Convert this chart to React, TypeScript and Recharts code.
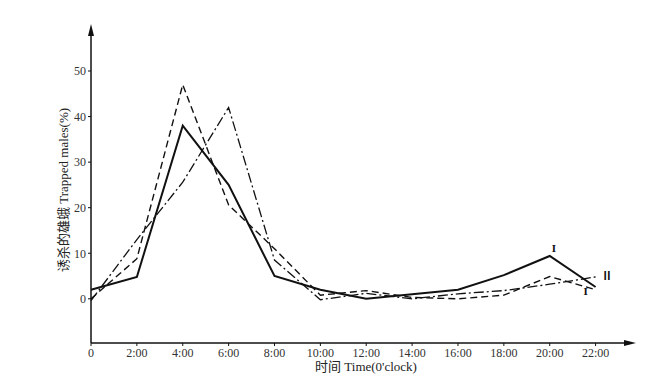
import { LineChart, Line, XAxis, YAxis, LabelList } from "recharts";

const hours = [0, 2, 4, 6, 8, 10, 12, 14, 16, 18, 20, 22];
const seriesI = [2, 4.8, 38, 25, 5, 2, 0, 1, 2, 5.2, 9.4, 2.6];
const seriesIPrime = [0, 8.8, 47, 20.6, 11, 0.8, 1.8, 0.3, 0, 0.8, 4.9, 2];
const seriesII = [-0.4, 13, 25.6, 42, 8.5, -0.2, 1.2, 0, 1.1, 1.8, 3.2, 4.8];
const yTicks = [0, 10, 20, 30, 40, 50];

const data = hours.map((h, i) => ({ h, a: seriesI[i], b: seriesIPrime[i], c: seriesII[i] }));

const serif = "'Liberation Serif', 'Noto Sans CJK SC', serif";

const fmtHour = (v: number) => (v === 0 ? "0" : `${v}:00`);

const endLabel = (text: string, idx: number, dx: number, dy: number) => (props: any) => {
  if (props.index !== idx) return null;
  return (
    <text x={props.x + dx} y={props.y + dy} fontSize={11} fontFamily={serif} fontWeight="bold" fill="#111">
      {text}
    </text>
  );
};

export default function App() {
  return (
    <div style={{ position: "absolute", left: 0, top: 0, width: 669, height: 385, background: "#fff" }}>
      <LineChart width={669} height={385} data={data} margin={{ top: 30, right: 39, bottom: 12, left: 51 }}>
        <XAxis
          dataKey="h"
          type="number"
          domain={[0, 23.5]}
          ticks={hours}
          tickFormatter={fmtHour}
          height={30}
          axisLine={{ stroke: "#111", strokeWidth: 1.5 }}
          tickLine={{ stroke: "#111" }}
          tickSize={3}
          tick={{ fontSize: 12, fontFamily: serif, fill: "#333" }}
          interval={0}
        />
        <YAxis
          type="number"
          domain={[-9.7, 59]}
          ticks={yTicks}
          width={40}
          axisLine={{ stroke: "#111", strokeWidth: 1.5 }}
          tickLine={{ stroke: "#111" }}
          tickSize={3}
          tick={{ fontSize: 12, fontFamily: serif, fill: "#333" }}
          allowDataOverflow
        />
        <Line dataKey="a" stroke="#111" strokeWidth={2} dot={false} isAnimationActive={false}>
          <LabelList content={endLabel("I", 10, 2, -4)} />
        </Line>
        <Line dataKey="b" stroke="#111" strokeWidth={1.4} strokeDasharray="7 4" dot={false} isAnimationActive={false}>
          <LabelList content={endLabel("I", 11, -12, 5)} />
        </Line>
        <Line dataKey="c" stroke="#111" strokeWidth={1.3} strokeDasharray="10 3 2 3" dot={false} isAnimationActive={false}>
          <LabelList content={endLabel("Ⅱ", 11, 6, 3)} />
        </Line>
      </LineChart>
      <svg width={669} height={385} style={{ position: "absolute", left: 0, top: 0, pointerEvents: "none" }}>
        <polygon points="91,24 88,36 94,36" fill="#111" />
        <polygon points="636,343 624,340 624,346" fill="#111" />
        <text x={68} y={190} transform="rotate(-90 68 190)" textAnchor="middle" fontSize={13} fontFamily={serif} fill="#222">
          诱杀的雄蛾 Trapped males(%)
        </text>
        <text x={366} y={371} textAnchor="middle" fontSize={13} fontFamily={serif} fill="#222">
          时间 Time(0'clock)
        </text>
      </svg>
    </div>
  );
}
